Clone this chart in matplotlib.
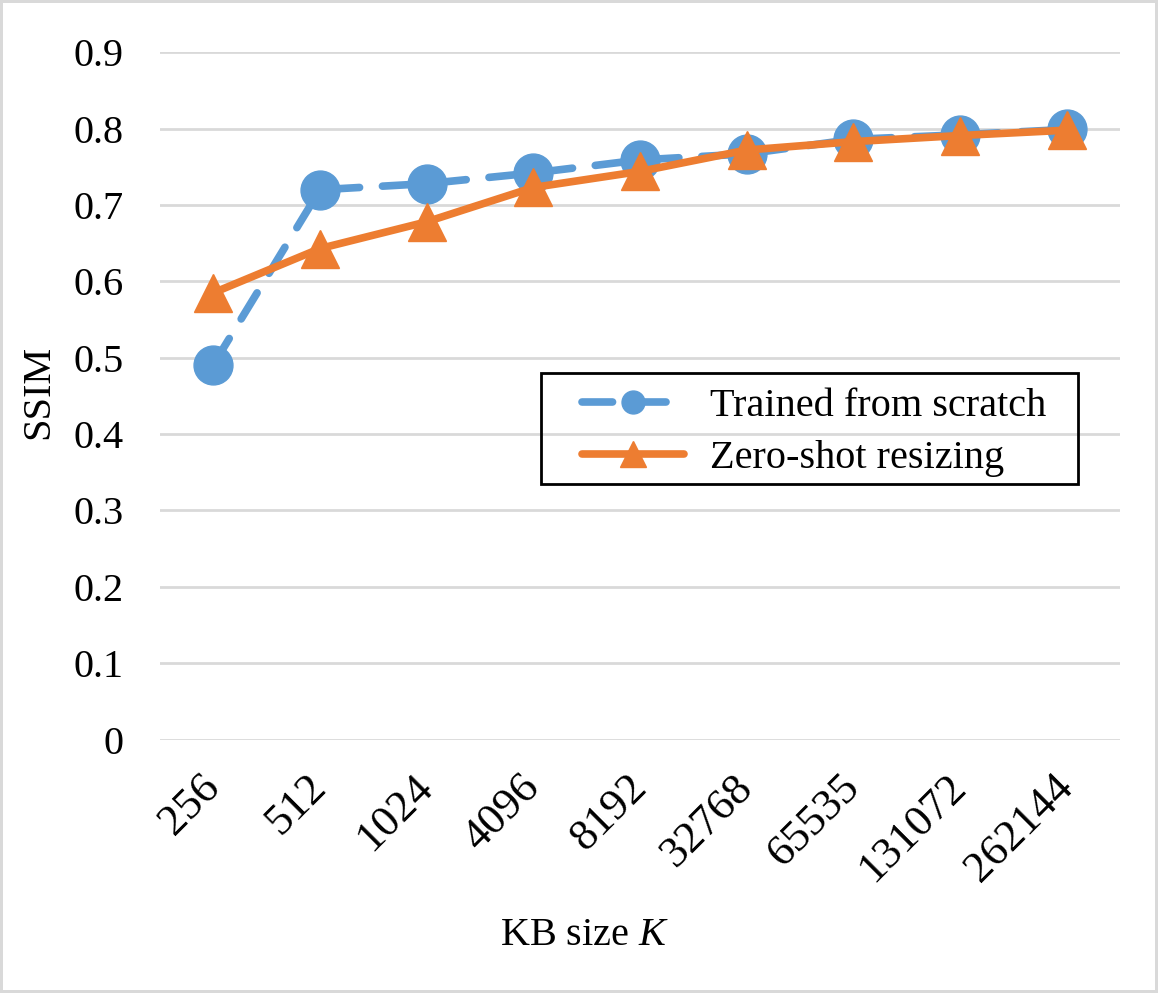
import matplotlib
matplotlib.use("Agg")
import matplotlib.pyplot as plt
from matplotlib.lines import Line2D
from matplotlib.patches import Rectangle

plt.rcParams['font.family'] = ['Liberation Serif', 'DejaVu Serif']
plt.rcParams['mathtext.fontset'] = 'custom'
plt.rcParams['mathtext.rm'] = 'Liberation Serif'
plt.rcParams['mathtext.it'] = 'Liberation Serif:italic'

# data
kb_sizes = ['256', '512', '1024', '4096', '8192', '32768', '65535', '131072', '262144']
scratch = [0.491, 0.720, 0.728, 0.742, 0.759, 0.767, 0.786, 0.792, 0.799]
zero_shot = [0.585, 0.643, 0.678, 0.723, 0.744, 0.772, 0.783, 0.791, 0.798]
y_ticks = [0, 0.1, 0.2, 0.3, 0.4, 0.5, 0.6, 0.7, 0.8, 0.9]
y_labels = ['0', '0.1', '0.2', '0.3', '0.4', '0.5', '0.6', '0.7', '0.8', '0.9']

BLUE = '#5B9BD5'
ORANGE = '#ED7D31'
FS = 29
W, H = 1158, 993

fig = plt.figure(figsize=(W / 100, H / 100), dpi=100)
fig.patch.set_edgecolor('#D9D9D9')
fig.patch.set_linewidth(4)
ax = fig.add_axes([160 / W, 1 - 739.5 / H, 960 / W, 687.2 / H])

x = list(range(len(kb_sizes)))
ax.plot(x, scratch, color=BLUE, lw=5.5, dashes=(4, 3), dash_capstyle='round',
        solid_capstyle='round', marker='o', ms=28, mec=BLUE, mfc=BLUE, zorder=3)
ax.plot(x, zero_shot, color=ORANGE, lw=5.5, solid_capstyle='round',
        solid_joinstyle='round', marker='^', ms=28, mec=ORANGE, mfc=ORANGE, zorder=4)

ax.set_xlim(-0.5, len(kb_sizes) - 0.5)
ax.set_ylim(0, 0.9)
ax.set_yticks(y_ticks)
ax.set_yticklabels(y_labels, fontsize=FS)
ax.set_xticks(x)
ax.set_xticklabels(kb_sizes, fontsize=32, rotation=45, ha='right', va='center',
                   rotation_mode='anchor')
ax.tick_params(axis='y', length=0, pad=26)
ax.tick_params(axis='x', length=0, pad=30)
ax.grid(axis='y', color='#D9D9D9', lw=2)
ax.set_axisbelow(True)
for s in ax.spines.values():
    s.set_visible(False)

fig.text(39 / W, 1 - 392 / H, 'SSIM', rotation=90, ha='center', va='center', fontsize=FS)
fig.text(585 / W, 1 - 945 / H, 'KB size $K$', ha='center', va='baseline', fontsize=FS)

handles = [
    Line2D([], [], color=BLUE, lw=5.5, dashes=(4, 3), dash_capstyle='round',
           marker='o', ms=16.5, mec=BLUE, mfc=BLUE),
    Line2D([], [], color=ORANGE, lw=5.5, solid_capstyle='round',
           marker='^', ms=19, mec=ORANGE, mfc=ORANGE),
]
fig.legend(handles, ['Trained from scratch', 'Zero-shot resizing'], loc='center left',
           bbox_to_anchor=(582 / W, 1 - 432.5 / H), frameon=False, borderpad=0,
           borderaxespad=0, fontsize=FS, handlelength=2.54, handletextpad=0.65,
           labelspacing=0.37)
fig.add_artist(Rectangle((541 / W, 1 - 484 / H), (1078 - 541) / W, (484 - 373) / H,
                         transform=fig.transFigure, fill=False, ec='black', lw=2))

fig.savefig('out.png', dpi=100)
